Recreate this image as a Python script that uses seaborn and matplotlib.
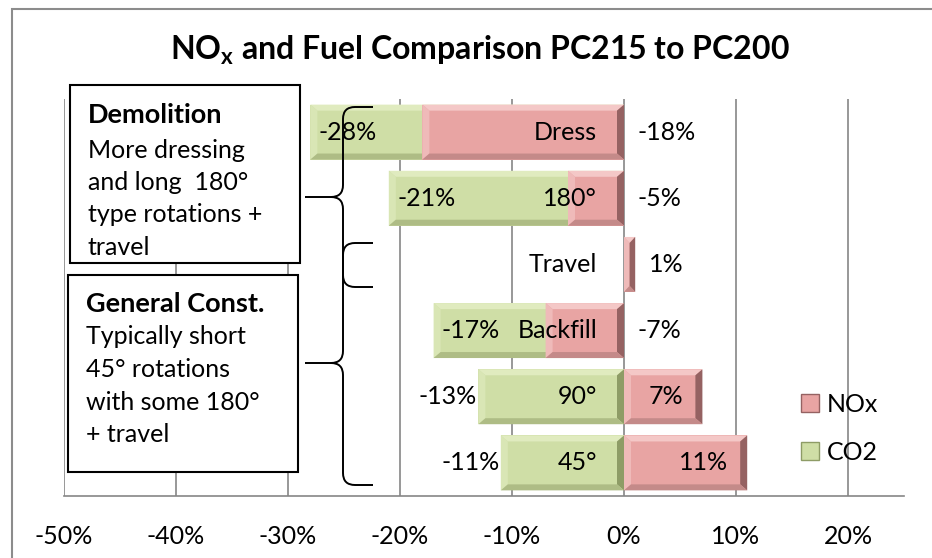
import matplotlib
matplotlib.use("Agg")
import matplotlib.pyplot as plt
import seaborn as sns
import pandas as pd
from matplotlib.path import Path
from matplotlib.patches import PathPatch, Rectangle, Patch, Polygon

# data
categories = ["Dress", "180°", "Travel", "Backfill", "90°", "45°"]
co2 = [-0.28, -0.21, 0.0, -0.17, -0.13, -0.11]
nox = [-0.18, -0.05, 0.01, -0.07, 0.07, 0.11]
co2_label_inside = [True, True, None, True, False, False]
x_ticks = [-0.5, -0.4, -0.3, -0.2, -0.1, 0.0, 0.1, 0.2]

sns.set_theme(style="white")
plt.rcParams["font.family"] = ["Lato", "DejaVu Sans"]
plt.rcParams["mathtext.fontset"] = "custom"
plt.rcParams["mathtext.rm"] = "Lato"
plt.rcParams["mathtext.bf"] = "Lato:bold"
plt.rcParams["text.color"] = "black"
plt.rcParams["xtick.color"] = "black"

W, H = 932, 558
fig = plt.figure(figsize=(W / 100, H / 100), dpi=100)
ax = fig.add_axes([64 / W, 1 - 496 / H, (904 - 64) / W, (496 - 99) / H])

green = "#cfdea6"
pink = "#e8a4a3"
# bevel shades: light top, light left, dark right, dark bottom
green_bevel = ["#e0ebbf", "#d9e6b5", "#8e9c66", "#aebc85"]
pink_bevel = ["#f4c8c7", "#efbab9", "#956262", "#c48a89"]

df = pd.DataFrame({"cat": categories, "CO2": co2, "NOx": nox})
sns.barplot(data=df, y="cat", x="CO2", order=categories, color=green, width=0.83,
            linewidth=0, saturation=1, ax=ax)
n_co2 = len(ax.patches)
sns.barplot(data=df, y="cat", x="NOx", order=categories, color=pink, width=0.83,
            linewidth=0, saturation=1, ax=ax)

ax.set_xlim(-0.5, 0.25)
ax.set_ylim(5.5, -0.5)

def bevel(p, shades, z, bx=7, by=6):
    tr = ax.transData
    x0, y0 = tr.transform((p.get_x(), p.get_y()))
    x1, y1 = tr.transform((p.get_x() + p.get_width(), p.get_y() + p.get_height()))
    xmin, xmax = sorted([x0, x1])
    ymin, ymax = sorted([y0, y1])
    bx = min(bx, (xmax - xmin) / 2)
    polys = [
        [(xmin, ymax), (xmax, ymax), (xmax - bx, ymax - by), (xmin + bx, ymax - by)],
        [(xmin, ymin), (xmin, ymax), (xmin + bx, ymax - by), (xmin + bx, ymin + by)],
        [(xmax, ymin), (xmax, ymax), (xmax - bx, ymax - by), (xmax - bx, ymin + by)],
        [(xmin, ymin), (xmax, ymin), (xmax - bx, ymin + by), (xmin + bx, ymin + by)],
    ]
    inv = tr.inverted()
    for poly, c in zip(polys, shades):
        ax.add_patch(Polygon(inv.transform(poly), closed=True, facecolor=c, edgecolor="none",
                             zorder=z))

for k, p in enumerate(ax.patches[:]):
    if p.get_width() == 0:
        p.set_visible(False)
        continue
    if k < n_co2:
        p.set_zorder(2)
        bevel(p, green_bevel, 2.1)
    else:
        p.set_zorder(3)
        bevel(p, pink_bevel, 3.1)

fs = 18
ax.set_xticks(x_ticks)
ax.set_xticklabels([f"{int(round(t * 100))}%" for t in x_ticks], fontsize=fs)
ax.tick_params(axis="x", length=0, pad=21)
ax.set_yticks([])
ax.set_xlabel("")
ax.set_ylabel("")
ax.grid(axis="x", color="#868686", linewidth=1.2)
ax.set_axisbelow(True)
for s in ["top", "right", "left"]:
    ax.spines[s].set_visible(False)
ax.spines["bottom"].set_color("#868686")
ax.spines["bottom"].set_linewidth(1.2)

for i, cat in enumerate(categories):
    # category name, right aligned just left of zero
    ax.text(-0.024, i, cat, ha="right", va="center", fontsize=fs, zorder=5)
    # NOx label
    if nox[i] < 0.05:
        ax.annotate(f"{int(round(nox[i] * 100))}%", (max(nox[i], 0), i), xytext=(10, 0),
                    textcoords="offset points", ha="left", va="center", fontsize=fs, zorder=5)
    else:
        ax.annotate(f"{int(round(nox[i] * 100))}%", (nox[i], i), xytext=(-14, 0),
                    textcoords="offset points", ha="right", va="center", fontsize=fs, zorder=5)
    # CO2 label
    if co2_label_inside[i] is None:
        continue
    if co2_label_inside[i]:
        ax.annotate(f"{int(round(co2[i] * 100))}%", (co2[i], i), xytext=(6, 0),
                    textcoords="offset points", ha="left", va="center", fontsize=fs, zorder=5)
    else:
        ax.annotate(f"{int(round(co2[i] * 100))}%", (co2[i], i), xytext=(-1, 0),
                    textcoords="offset points", ha="right", va="center", fontsize=fs, zorder=5)

handles = [Patch(facecolor=pink, edgecolor="#956262", label="NOx"),
           Patch(facecolor=green, edgecolor="#8e9c66", label="CO2")]
ax.legend(handles=handles, loc="center left", bbox_to_anchor=(0.85, 0.17), frameon=False,
          fontsize=fs, handlelength=0.75, handleheight=0.75, handletextpad=0.3, labelspacing=1.0)

# title
fig.text(480 / W, 1 - 50 / H, r"NO$_\mathbf{x}$ and Fuel Comparison PC215 to PC200",
         ha="center", va="center", fontsize=23, fontweight="bold")

def px(x, y):
    return (x / W, 1 - y / H)

# outer chart border
fig.add_artist(Rectangle(px(12, 600), 1000 / W, (600 - 9) / H, transform=fig.transFigure,
                         fill=False, edgecolor="#8c8c8c", linewidth=1.5))

# annotation boxes
for (x0, y0, x1, y1) in [(70, 85, 300, 263), (68, 275, 298, 472)]:
    fig.add_artist(Rectangle(px(x0, y1), (x1 - x0) / W, (y1 - y0) / H, transform=fig.transFigure,
                             facecolor="white", edgecolor="black", linewidth=1.5))

demo = ["More dressing", "and long  180°", "type rotations +", "travel"]
gen = ["Typically short", "45° rotations", "with some 180°", "+ travel"]
fig.text(*px(88, 115), "Demolition", ha="left", va="center", fontsize=19.5, fontweight="bold")
for k, line in enumerate(demo):
    fig.text(*px(88, 150 + k * 32.5), line, ha="left", va="center", fontsize=18)
fig.text(*px(86, 304), "General Const.", ha="left", va="center", fontsize=19.5, fontweight="bold")
for k, line in enumerate(gen):
    fig.text(*px(86, 337 + k * 32.5), line, ha="left", va="center", fontsize=18)

def brace(y0, ytip, y1, xe=373, xv=343, xt=305, r=12):
    pts = [(xe, y0), (xv + r, y0), (xv, y0), (xv, y0 + r), (xv, ytip - r), (xv, ytip),
           (xv - r, ytip), (xt, ytip), (xv - r, ytip), (xv, ytip), (xv, ytip + r),
           (xv, y1 - r), (xv, y1), (xv + r, y1), (xe, y1)]
    codes = [Path.MOVETO, Path.LINETO, Path.CURVE3, Path.CURVE3, Path.LINETO, Path.CURVE3,
             Path.CURVE3, Path.LINETO, Path.MOVETO, Path.CURVE3, Path.CURVE3, Path.LINETO,
             Path.CURVE3, Path.CURVE3, Path.LINETO]
    path = Path([px(x, y) for x, y in pts], codes)
    fig.add_artist(PathPatch(path, transform=fig.transFigure, fill=False, edgecolor="black",
                             linewidth=1.4))

brace(107, 197, 287)
brace(243, 363, 485)

fig.savefig("out.png", dpi=100)
